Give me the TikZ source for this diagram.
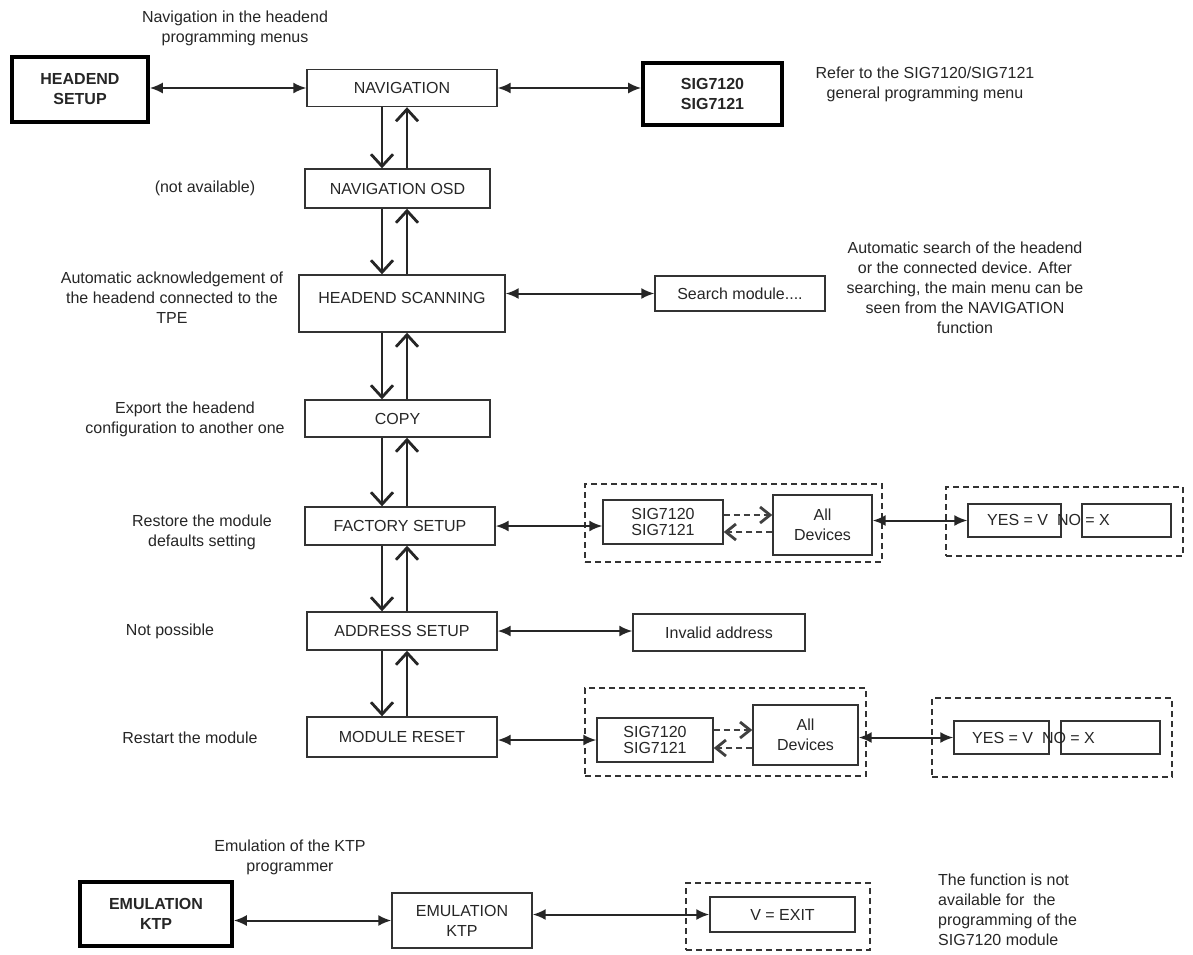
\documentclass[tikz,border=0pt]{standalone}
\usepackage{fontspec}
\setmainfont{Liberation Sans}
\usetikzlibrary{arrows.meta,calc}
\begin{document}
\begin{tikzpicture}[x=1pt,y=-1pt,
  every node/.style={font=\fontsize{16}{20}\selectfont, text=black!85, inner sep=0pt},
  box/.style={draw=black!80, line width=1.4pt, align=center},
  tbox/.style={draw=black, line width=3.6pt, align=center, font=\fontsize{16}{20}\selectfont\bfseries},
  dbox/.style={draw=black!80, line width=1.5pt, dash pattern=on 6pt off 4pt},
  lbl/.style={align=center},
  darrow/.style={draw=black!85, line width=2pt, {Latex[length=13pt,width=11pt]}-{Latex[length=13pt,width=11pt]}},
  varrow/.style={draw=black!85, line width=1.7pt, -{Straight Barb[length=12pt,width=22pt,line width=2.8pt]}},
  dasharrow/.style={draw=black!75, line width=1.6pt, dash pattern=on 6pt off 4pt, -{Straight Barb[length=10pt,width=16pt,line width=2.8pt]}}
]
\useasboundingbox (0,0) rectangle (1193,954);
\fill[white] (0,0) rectangle (1193,954);
\coordinate (dn) at (382,0);
\coordinate (up) at (407,0);

% top row
\node[lbl] (t1) at (235,28) {Navigation in the headend\\programming menus};
\node[tbox, minimum width=136, minimum height=65] (hs) at (80,89.5) {HEADEND\\SETUP};
\node[box, minimum width=190, minimum height=37] (nav) at (402,88) {NAVIGATION};
\node[tbox, minimum width=139, minimum height=62] (sig) at (712.5,94) {SIG7120\\SIG7121};
\node[lbl] (t2) at (925,84) {Refer to the SIG7120/SIG7121\\general programming menu};
\draw[darrow] (hs.east |- nav.west) -- (nav.west);
\draw[darrow] (nav.east) -- (nav.east -| sig.west);

% column
\node[box, minimum width=185, minimum height=39] (osd) at (397.5,188.5) {NAVIGATION OSD};
\node[lbl] (t3) at (205,188) {(not available)};
\node[box, minimum width=206, minimum height=57] (scan) at (402,303.5) {\raisebox{11pt}{HEADEND SCANNING}};
\node[lbl] (t4) at (172,298) {Automatic acknowledgement of\\the headend connected to the\\TPE};
\node[box, minimum width=170, minimum height=35] (search) at (740,293.5) {Search module....};
\node[lbl] (t5) at (965,288) {Automatic search of the headend\\or the connected device. After\\searching, the main menu can be\\seen from the NAVIGATION\\function};
\node[box, minimum width=185, minimum height=37] (copy) at (397.5,418.5) {COPY};
\node[lbl] (t6) at (185,419) {Export the headend\\configuration to another one};
\node[box, minimum width=190, minimum height=38] (fac) at (400,526) {FACTORY SETUP};
\node[lbl] (t7) at (202,532) {Restore the module\\defaults setting};
\node[box, minimum width=190, minimum height=38] (addr) at (402,631) {ADDRESS SETUP};
\node[lbl] (t8) at (170,631) {Not possible};
\node[box, minimum width=172, minimum height=37] (inv) at (719,632.5) {Invalid address};
\node[box, minimum width=190, minimum height=40] (reset) at (402,737) {MODULE RESET};
\node[lbl] (t9) at (190,738) {Restart the module};

\foreach \a/\b in {nav/osd, osd/scan, scan/copy, copy/fac, fac/addr, addr/reset}{
  \draw[varrow] (\a.south -| dn) -- (\b.north -| dn);
  \draw[varrow] (\b.north -| up) -- (\a.south -| up);
}
\draw[darrow] (scan.east |- search.west) -- (search.west);
\draw[darrow] (addr.east) -- (addr.east -| inv.west);

% factory group
\node[dbox, minimum width=297, minimum height=78] (g1) at (733.5,523) {};
\node[box, minimum width=120, minimum height=44, font=\fontsize{16}{16}\selectfont] (fsig) at (663,522) {SIG7120\\SIG7121};
\node[box, minimum width=99, minimum height=60] (fall) at (822.5,525) {All\\Devices};
\node[dbox, minimum width=237, minimum height=69] (g2) at (1064.5,521.5) {};
\node[box, minimum width=93, minimum height=33] (fyes) at (1014.5,520.5) {};
\node[box, minimum width=89, minimum height=33] (fno) at (1126.5,520.5) {};
\node[anchor=west] (fyn) at (987,520) {YES = V\ \ NO = X};
\draw[darrow] (fac.east) -- (fac.east -| fsig.west);
\draw[darrow] (fall.east |- fyes.west) -- (fyes.west);
\draw[dasharrow] ($(fsig.east)+(0,-7)$) -- ($(fsig.east -| fall.west)+(0,-7)$);
\draw[dasharrow] ($(fsig.east -| fall.west)+(0,10)$) -- ($(fsig.east)+(0,10)$);

% reset group
\node[dbox, minimum width=281, minimum height=88] (g3) at (725.5,732) {};
\node[box, minimum width=116, minimum height=44, font=\fontsize{16}{16}\selectfont] (rsig) at (655,740) {SIG7120\\SIG7121};
\node[box, minimum width=105, minimum height=60] (rall) at (805.5,735) {All\\Devices};
\node[dbox, minimum width=240, minimum height=79] (g4) at (1052,737.5) {};
\node[box, minimum width=95, minimum height=33] (ryes) at (1001.5,737.5) {};
\node[box, minimum width=99, minimum height=33] (rno) at (1110.5,737.5) {};
\node[anchor=west] (ryn) at (972,738) {YES = V\ \ NO = X};
\draw[darrow] (reset.east |- rsig.west) -- (rsig.west);
\draw[darrow] (rall.east |- ryes.west) -- (ryes.west);
\draw[dasharrow] ($(rsig.east)+(0,-10)$) -- ($(rsig.east -| rall.west)+(0,-10)$);
\draw[dasharrow] ($(rsig.east -| rall.west)+(0,8)$) -- ($(rsig.east)+(0,8)$);

% emulation
\node[lbl] (t10) at (290,857) {Emulation of the KTP\\programmer};
\node[tbox, minimum width=152, minimum height=64] (ekt) at (156,914) {EMULATION\\KTP};
\node[box, minimum width=140, minimum height=55] (ekt2) at (462,920.5) {EMULATION\\KTP};
\node[dbox, minimum width=184, minimum height=67] (g5) at (778,916.5) {};
\node[box, minimum width=145, minimum height=35] (vexit) at (782.5,914.5) {V = EXIT};
\node[align=left, anchor=west] (t11) at (938,910) {The function is not\\available for\ \ the\\programming of the\\SIG7120 module};
\draw[darrow] (ekt.east |- ekt2.west) -- (ekt2.west);
\draw[darrow] (ekt2.east |- vexit.west) -- (vexit.west);
\end{tikzpicture}
\end{document}
